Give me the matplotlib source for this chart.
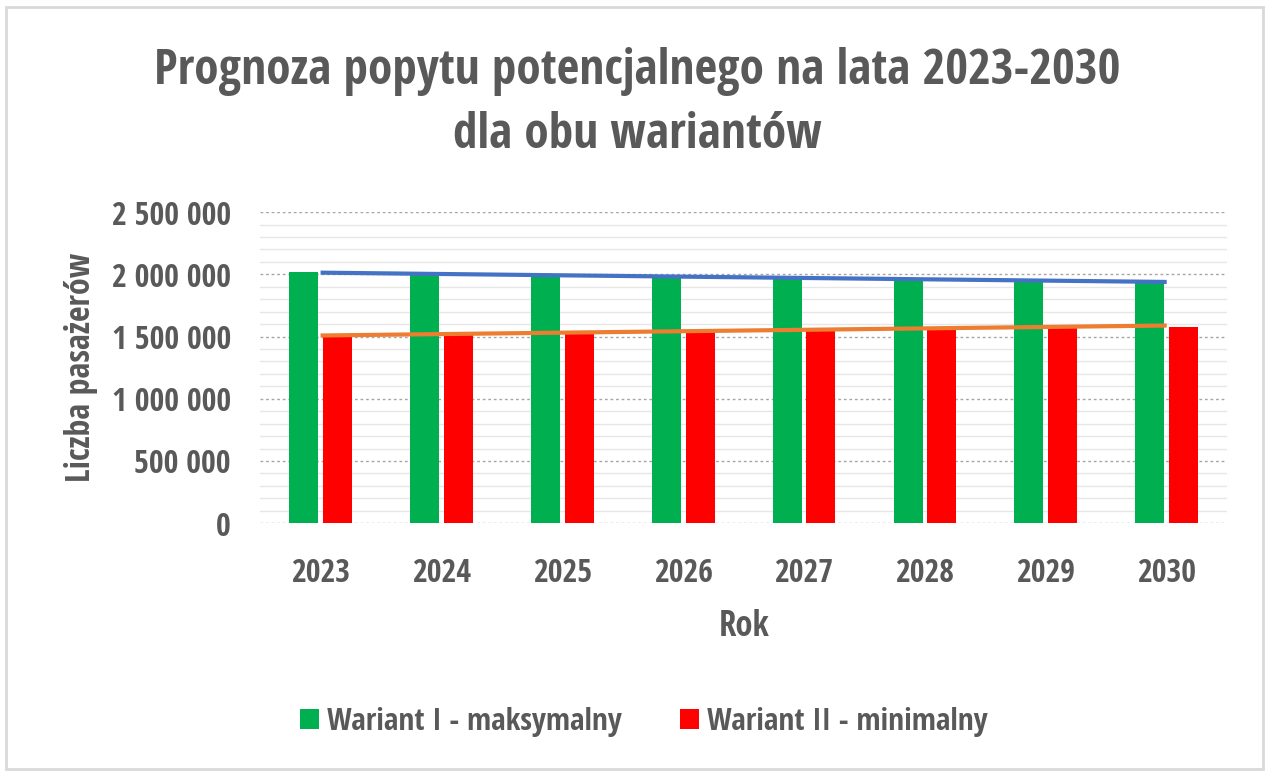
import numpy as np
import matplotlib
matplotlib.use('Agg')
import matplotlib.pyplot as plt
from matplotlib.patches import Rectangle
from matplotlib.ticker import FuncFormatter, MultipleLocator

# data
years = ['2023', '2024', '2025', '2026', '2027', '2028', '2029', '2030']
wariant_max = [2020000, 2000000, 1988000, 1980000, 1967000, 1959000, 1953000, 1940000]
wariant_min = [1503000, 1519000, 1530000, 1551000, 1557000, 1565000, 1584000, 1578000]

plt.rcParams['font.family'] = ['Open Sans Condensed', 'DejaVu Sans']
txt = '#595959'

fig = plt.figure(figsize=(12.69, 7.74), dpi=100)
ax = fig.add_axes([0.205, 0.324, 0.762, 0.402])

x = np.arange(len(years))
w = 0.24
gap = 0.04
ax.bar(x - (w + gap) / 2, wariant_max, w, color='#00B050', label='Wariant I - maksymalny', zorder=3)
ax.bar(x + (w + gap) / 2, wariant_min, w, color='#FF0000', label='Wariant II - minimalny', zorder=3)

# linear trend lines
for vals, c in [(wariant_max, '#4472C4'), (wariant_min, '#ED7D31')]:
    k, b = np.polyfit(x, vals, 1)
    ax.plot(x, k * x + b, color=c, lw=3, zorder=4, solid_capstyle='butt')

ax.set_xlim(-0.5, len(years) - 0.5)
ax.set_ylim(0, 2500000)
ax.yaxis.set_major_locator(MultipleLocator(500000))
ax.yaxis.set_minor_locator(MultipleLocator(100000))
ax.yaxis.set_major_formatter(FuncFormatter(lambda v, p: f'{int(v):,}'.replace(',', ' ')))
ax.grid(axis='y', which='major', color='#a6a6a6', lw=1, ls=(0, (2, 2)), zorder=0)
ax.grid(axis='y', which='minor', color='#e6e6e6', lw=1, zorder=0)
ax.set_axisbelow(True)
for s in ax.spines.values():
    s.set_visible(False)
ax.tick_params(axis='both', which='both', length=0, colors=txt)
ax.tick_params(axis='y', labelsize=23, pad=21)
ax.tick_params(axis='x', labelsize=23, pad=24)
ax.set_xticks(x)
ax.set_xticklabels(years)
for lab in ax.get_xticklabels() + ax.get_yticklabels():
    lab.set_fontweight('bold')

ax.set_xlabel('Rok', fontsize=25, fontweight='bold', color=txt, labelpad=14)
ax.set_ylabel('Liczba pasażerów', fontsize=24.5, fontweight='bold', color=txt, labelpad=10)

fig.text(0.502, 1 - 72 / 774, 'Prognoza popytu potencjalnego na lata 2023-2030',
         ha='center', va='center', fontsize=35.5, fontweight='bold', color=txt)
fig.text(0.502, 1 - 135 / 774, 'dla obu wariantów',
         ha='center', va='center', fontsize=35.5, fontweight='bold', color=txt)

fig.legend(loc='center', bbox_to_anchor=(644 / 1269, 1 - 722 / 774), ncol=2, frameon=False,
           prop={'size': 22.5, 'weight': 'bold'}, labelcolor=txt, handlelength=0.6,
           handleheight=0.6, columnspacing=1.85, handletextpad=0.28)

fig.patches.append(Rectangle((0.005, 0.006), 0.99, 0.985, transform=fig.transFigure,
                             fill=False, ec='#d9d9d9', lw=2))

fig.savefig('out.png', dpi=100, facecolor='white')
